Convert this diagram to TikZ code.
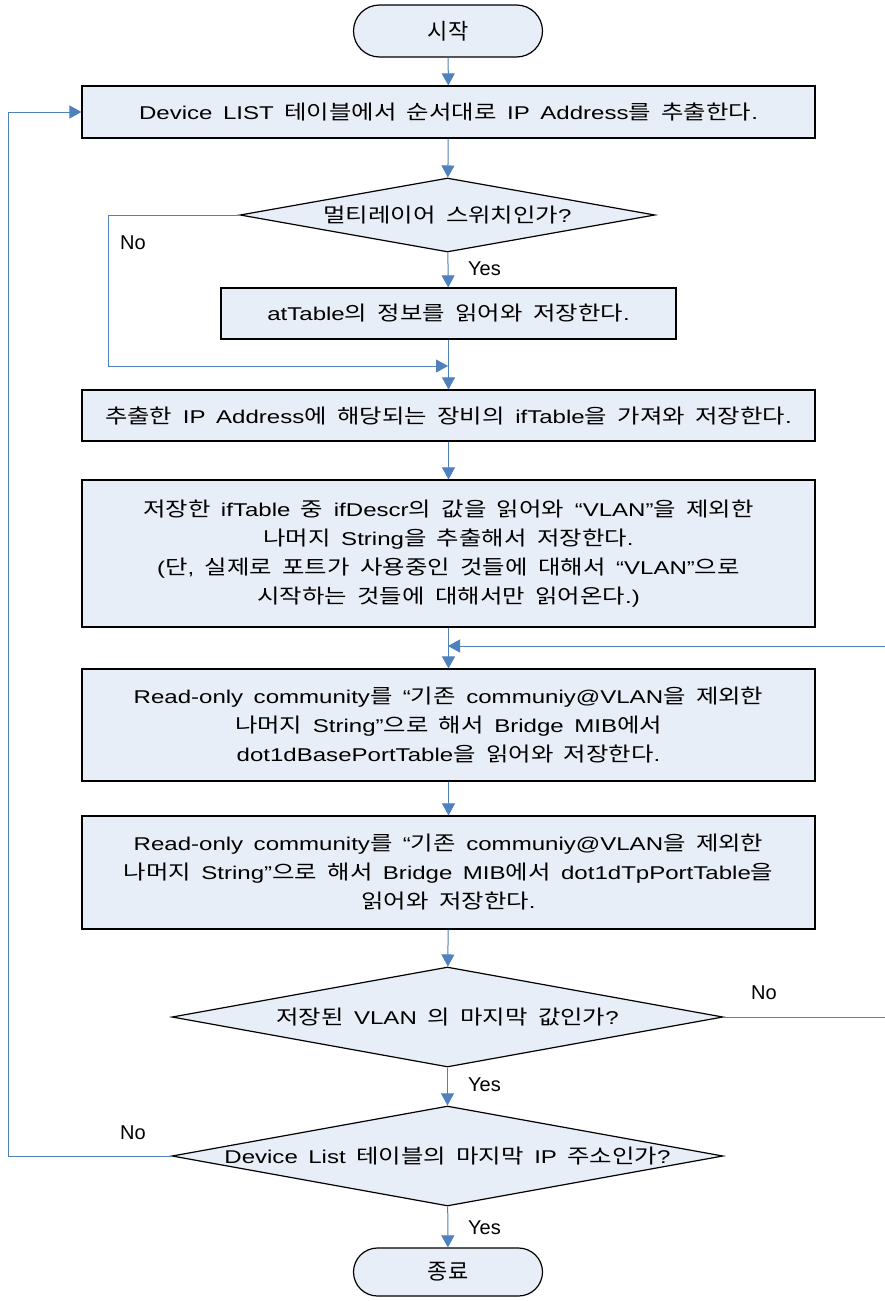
\documentclass[tikz,border=0pt]{standalone}
\usepackage{fontspec}
% wide-set body faces: Latin and Hangul
\setmainfont{Liberation Sans}[FakeStretch=1.3]
\newfontfamily\kfont[FakeStretch=1.22,Scale=1.08]{Noto Sans CJK KR}
\newfontfamily\kplainfont{Noto Sans CJK KR}
\newfontfamily\tagfont{Liberation Sans}
\newif\ifplainhangul
\newcommand{\hangulon}{\ifplainhangul\kplainfont\else\kfont\fi}
% Hangul syllables are set in the CJK face, everything else in the Latin face
\newXeTeXintercharclass\hangulclass
\count255="AC00
\loop
  \XeTeXcharclass\count255=\hangulclass
  \ifnum\count255<"D7A3 \advance\count255 by 1 \repeat
\XeTeXinterchartoks 0 \hangulclass = {\hangulon}
\XeTeXinterchartoks 4095 \hangulclass = {\hangulon}
\XeTeXinterchartoks \hangulclass 0 = {\rmfamily}
\XeTeXinterchartoks \hangulclass 4095 = {\rmfamily}
\usetikzlibrary{shapes.geometric,arrows.meta}
\definecolor{boxfill}{RGB}{232,238,247}
\definecolor{flowblue}{RGB}{79,129,189}
\newcommand{\boxfont}{\fontsize{18.5}{29}\selectfont\spaceskip=10.5pt plus 1pt\relax}
\tikzset{
  stepbox/.style={draw=black, line width=1.2pt, fill=boxfill, inner sep=0pt,
    align=center, font=\boxfont},
  terminal/.style={stepbox, font={\plainhangultrue\fontsize{22}{26}\selectfont},
    rounded corners=26pt, minimum width=189pt, minimum height=52pt},
  decision/.style={diamond, draw=black, line width=1.2pt, fill=boxfill, inner sep=0pt},
  dtext/.style={font=\boxfont, inner sep=0pt},
  flow/.style={draw=flowblue, line width=1pt, -{Triangle[length=12pt,width=13pt]}},
  plain/.style={draw=flowblue, line width=1pt},
  tag/.style={font=\tagfont\fontsize{20}{22}\selectfont, inner sep=0pt}
}
\begin{document}
\XeTeXinterchartokenstate=1
\begin{tikzpicture}[x=1pt,y=-1pt]
\useasboundingbox (0,0) rectangle (885,1301);
\clip (0,0) rectangle (885,1301);
\fill[white] (0,0) rectangle (885,1301);

% process steps
\node[terminal] (start) at (448,31) {시작};
\node[stepbox, minimum width=733pt, minimum height=52pt] (b1) at (448.5,112)
  {Device LIST 테이블에서 순서대로 IP Address를 추출한다.};
\node[decision, minimum width=415pt, minimum height=74pt] (d1) at (447.5,215) {};
\node[dtext] (d1t) at (d1.center) {멀티레이어 스위치인가?};
\node[stepbox, minimum width=455pt, minimum height=51pt] (b2) at (448.5,313.5)
  {atTable의 정보를 읽어와 저장한다.};
\node[stepbox, minimum width=733pt, minimum height=51pt] (b3) at (448.5,415.5)
  {추출한 IP Address에 해당되는 장비의 ifTable을 가져와 저장한다.};
\node[stepbox, minimum width=733pt, minimum height=147pt] (b4) at (448.5,553.5)
  {저장한 ifTable 중 ifDescr의 값을 읽어와 “VLAN”을 제외한\\
   나머지 String을 추출해서 저장한다.\\
   (단, 실제로 포트가 사용중인 것들에 대해서 “VLAN”으로\\
   시작하는 것들에 대해서만 읽어온다.)};
\node[stepbox, minimum width=733pt, minimum height=112pt] (b5) at (448.5,725)
  {Read-only community를 “기존 communiy@VLAN을 제외한\\
   나머지 String”으로 해서 Bridge MIB에서\\
   dot1dBasePortTable을 읽어와 저장한다.};
\node[stepbox, minimum width=733pt, minimum height=113pt] (b6) at (448.5,872.5)
  {Read-only community를 “기존 communiy@VLAN을 제외한\\
   나머지 String”으로 해서 Bridge MIB에서 dot1dTpPortTable을\\
   읽어와 저장한다.};
\node[decision, minimum width=551pt, minimum height=100pt] (d2) at (447.5,1017) {};
\node[dtext] (d2t) at (d2.center) {저장된 VLAN 의 마지막 값인가?};
\node[decision, minimum width=551pt, minimum height=100pt] (d3) at (447.5,1156) {};
\node[dtext] (d3t) at (d3.center) {Device List 테이블의 마지막 IP 주소인가?};
\node[terminal, minimum height=48pt, rounded corners=24pt] (stop) at (448,1272) {종료};

% junction points
\coordinate (merge) at (448,366);
\coordinate (loopin) at (448,646);
\coordinate (nobend) at (108,215);
\coordinate (rightbend) at (892,1017);
\coordinate (leftbend) at (8,1156);

% connectors
\draw[flow] (start) -- (b1);
\draw[flow] (b1) -- (d1);
\draw[flow] (d1) -- (b2);
\draw[plain] (d1.west) -- (nobend);
\draw[flow] (nobend) |- (merge);
\draw[flow] (b2) -- (b3);
\draw[flow] (b3) -- (b4);
\draw[flow] (b4) -- (b5);
\draw[flow] (rightbend |- loopin) -- (loopin);
\draw[plain] (d2.east) -- (rightbend) -- (rightbend |- loopin);
\draw[flow] (b5) -- (b6);
\draw[flow] (b6) -- (d2);
\draw[flow] (d2) -- (d3);
\draw[plain] (d3.west) -- (leftbend);
\draw[flow] (leftbend) |- (b1.west);
\draw[flow] (d3) -- (stop);

% branch labels
\node[tag] (no1) at (133,243) {No};
\node[tag, anchor=west] (yes1) at (468,269) {Yes};
\node[tag] (no2) at (764,993) {No};
\node[tag, anchor=west] (yes2) at (468,1085) {Yes};
\node[tag] (no3) at (133,1133) {No};
\node[tag, anchor=west] (yes3) at (468,1228) {Yes};
\end{tikzpicture}
\end{document}
